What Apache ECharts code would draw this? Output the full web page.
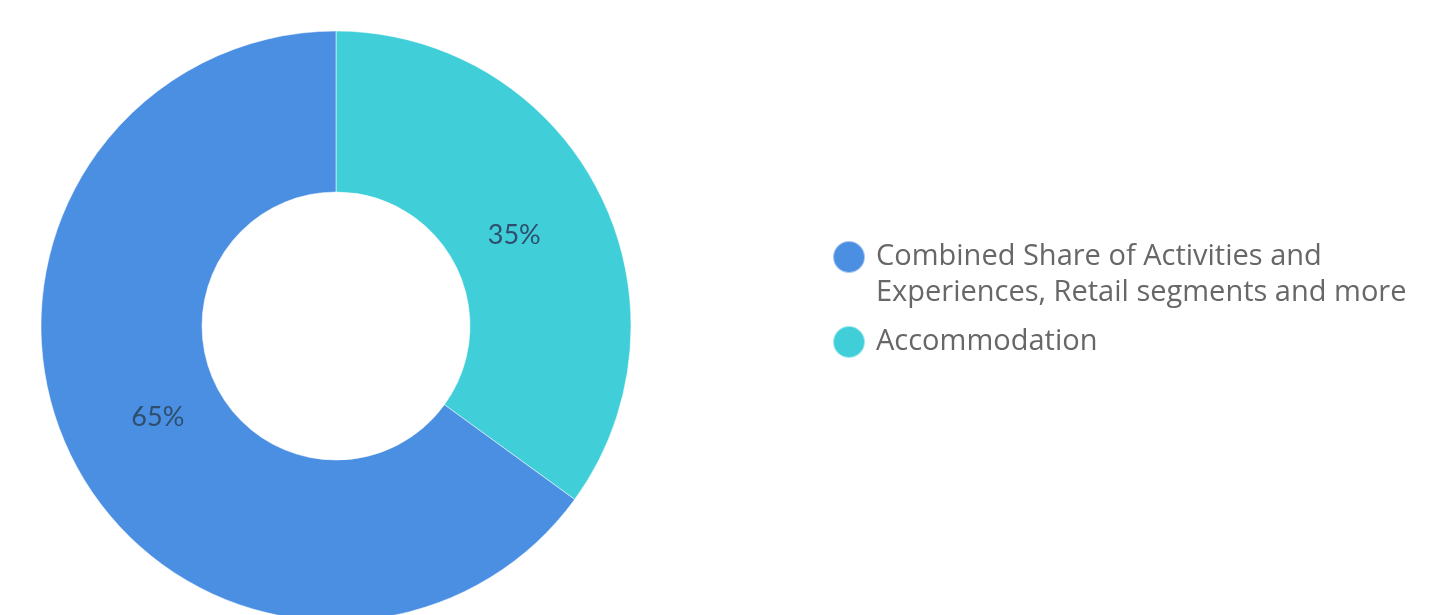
<!DOCTYPE html>
<html><head><meta charset="utf-8">
<script src="https://cdn.jsdelivr.net/npm/echarts@6/dist/echarts.min.js"></script>
<style>html,body{margin:0;padding:0;background:#fff}#c{width:1430px;height:615px}</style>
</head><body><div id="c"></div>
<script>
const categories = ['Accommodation', 'Combined Share of Activities and\nExperiences, Retail segments and more'];
const values = [35, 65];
const colors = ['#40CFD9', '#4A8FE2'];
const legendOrder = [categories[1], categories[0]];

const LH = 36;
const chart = echarts.init(document.getElementById('c'));
const data = categories.map((c, i) => ({ name: c, value: values[i], itemStyle: { color: colors[i] } }));
chart.setOption({
  animation: false,
  legend: {
    orient: 'vertical',
    left: 827, top: 257 - 1.5 * LH - 5,
    icon: 'circle',
    itemWidth: 32, itemHeight: 32,
    itemGap: 85 - 2 * LH,
    data: legendOrder,
    formatter: function (n) { return n.indexOf('\n') >= 0 ? ' \n' + n : n; },
    textStyle: { fontFamily: 'Open Sans', fontSize: 29, color: '#676767', lineHeight: LH, padding: [0, 0, 0, 6] }
  },
  series: [{
    type: 'pie', center: [336, 326], radius: [134, 295], startAngle: 90,
    label: { show: false }, labelLine: { show: false },
    itemStyle: { borderColor: 'rgba(255,255,255,0.5)', borderWidth: 1 },
    data: data, silent: true
  }, {
    type: 'pie', center: [336, 326], radius: [99, 295], startAngle: 90, silent: true,
    itemStyle: { color: 'rgba(0,0,0,0)' },
    label: { show: true, position: 'inside', formatter: '{c}%', fontFamily: 'Lato', fontSize: 27, color: '#2F4E6E' },
    labelLine: { show: false },
    data: categories.map((c, i) => ({ name: c, value: values[i] }))
  }]
});
</script></body></html>
